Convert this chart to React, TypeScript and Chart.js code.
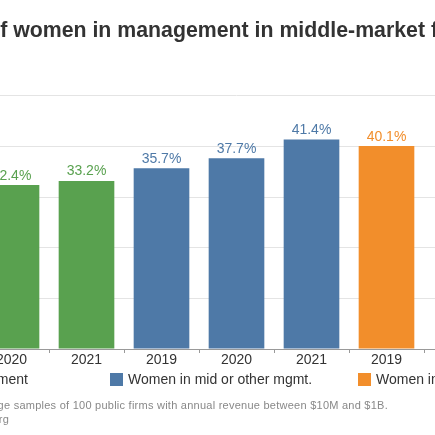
import { useEffect, useRef } from "react";
import { Chart, registerables } from "chart.js";

Chart.register(...registerables);

const FONT = "'Liberation Sans', Arial, Helvetica, sans-serif";

const chartTitle = "Share of women in management in middle-market firms";
const categories = ["2019", "2020", "2021", "2019", "2020", "2021", "2019", "2020", "2021"];
const seriesNames = ["Women in senior management", "Women in mid or other mgmt.", "Women in total workforce"];
const seriesColors = ["#59a14f", "#4e79a7", "#f28e2b"];
const seniorMgmt = [30.9, 32.4, 33.2, null, null, null, null, null, null];
const midMgmt = [null, null, null, 35.7, 37.7, 41.4, null, null, null];
const workforce = [null, null, null, null, null, null, 40.1, null, null];
const yTicks = [0, 10, 20, 30, 40, 50];
const noteLines = [
  "Note: Average samples of 100 public firms with annual revenue between $10M and $1B.",
  "Source: Catalyst.org",
];

const OFF = 169;
const Y_AXIS_W = 68;
const CANVAS_W = 758;
const CANVAS_H = 372;

const valueLabels = {
  id: "valueLabels",
  afterDatasetsDraw(chart: any) {
    const ctx = chart.ctx;
    ctx.save();
    ctx.font = `14px ${FONT}`;
    ctx.textAlign = "center";
    ctx.textBaseline = "alphabetic";
    chart.data.datasets.forEach((ds: any, i: number) => {
      const meta = chart.getDatasetMeta(i);
      meta.data.forEach((el: any, j: number) => {
        const v = ds.data[j];
        if (v == null) return;
        ctx.fillStyle = ds.backgroundColor;
        ctx.fillText(`${v.toFixed(1)}%`, el.x, el.y - 5.5);
      });
    });
    ctx.restore();
  },
};

function BarChart() {
  const ref = useRef<HTMLCanvasElement>(null);
  useEffect(() => {
    if (!ref.current) return;
    Chart.defaults.font.family = FONT;
    const seriesData = [seniorMgmt, midMgmt, workforce];
    const chart = new Chart(ref.current, {
      type: "bar",
      data: {
        labels: categories,
        datasets: seriesData.map((d, i) => ({
          label: seriesNames[i],
          data: d as any,
          backgroundColor: seriesColors[i],
          borderWidth: 0,
          grouped: false,
          barPercentage: 0.742,
          categoryPercentage: 1,
        })),
      },
      options: {
        responsive: false,
        animation: false,
        devicePixelRatio: 1,
        layout: { padding: { left: 0, right: 15, top: 0, bottom: 0 } },
        plugins: {
          legend: { display: false },
          tooltip: { enabled: false },
          title: {
            display: true,
            text: chartTitle,
            align: "center",
            color: "#333333",
            font: { size: 21.3, weight: "bold", family: FONT, lineHeight: 1.2 },
            padding: { top: 18.5, bottom: 51.9 },
          },
        },
        scales: {
          x: {
            type: "category",
            grid: {
              display: true,
              drawOnChartArea: false,
              drawTicks: true,
              tickLength: 4,
              offset: true,
              color: "#999999",
            },
            border: { display: true, color: "#999999" },
            ticks: {
              color: "#333333",
              font: { size: 14, family: FONT },
              padding: -1,
              maxRotation: 0,
              autoSkip: false,
            },
            afterFit: (s: any) => {
              s.height = 23;
            },
          },
          y: {
            min: yTicks[0],
            max: yTicks[yTicks.length - 1],
            afterBuildTicks: (s: any) => {
              s.ticks = yTicks.map((v) => ({ value: v }));
            },
            ticks: {
              color: "#333333",
              font: { size: 14, family: FONT },
              callback: (v: any) => `${v}%`,
            },
            grid: { color: "#e4e4e4", drawTicks: false },
            border: { display: false },
            afterFit: (s: any) => {
              s.width = Y_AXIS_W;
            },
          },
        },
      },
      plugins: [valueLabels],
    });
    return () => chart.destroy();
  }, []);
  return <canvas ref={ref} width={CANVAS_W} height={CANVAS_H} style={{ width: CANVAS_W, height: CANVAS_H, display: "block" }} />;
}

export default function App() {
  const legendRow = 371;
  const item = (i: number, pos: any) => (
    <div
      key={i}
      style={{
        position: "absolute",
        top: legendRow,
        height: 16,
        display: "flex",
        alignItems: "center",
        whiteSpace: "nowrap",
        fontSize: 14,
        color: "#333333",
        ...pos,
      }}
    >
      <span style={{ display: "inline-block", width: 13, height: 13, background: seriesColors[i], marginRight: 5 }} />
      <span>{seriesNames[i]}</span>
    </div>
  );
  const note = {
    position: "absolute" as const,
    lineHeight: "14px",
    fontSize: 11,
    letterSpacing: "0.25px",
    color: "#888888",
    whiteSpace: "nowrap" as const,
  };
  return (
    <div
      style={{
        position: "fixed",
        left: 0,
        top: 0,
        width: 435,
        height: 435,
        overflow: "hidden",
        background: "#ffffff",
        fontFamily: FONT,
      }}
    >
      <div style={{ position: "absolute", left: -OFF, top: 0, width: CANVAS_W, height: CANVAS_H }}>
        <BarChart />
      </div>
      {item(0, { right: 435 - 28 })}
      {item(1, { left: 110 })}
      {item(2, { left: 358 })}
      <div style={{ ...note, right: 47, top: 398 }}>{noteLines[0]}</div>
      <div style={{ ...note, right: 426, top: 412 }}>{noteLines[1]}</div>
    </div>
  );
}
